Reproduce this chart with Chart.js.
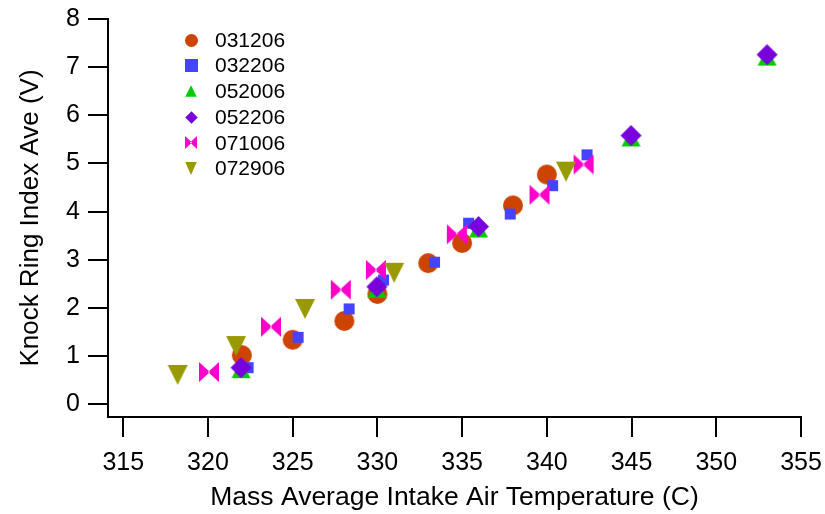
<!DOCTYPE html>
<html>
<head>
<meta charset="utf-8">
<script src="https://cdn.jsdelivr.net/npm/chart.js@4.4.1/dist/chart.umd.min.js"></script>
<style>
  html, body { margin: 0; padding: 0; background: #fff; }
</style>
</head>
<body>
<canvas id="chart" width="825" height="514"></canvas>
<script>
// series names, colours and marker shapes
const seriesNames = ['031206', '032206', '052006', '052206', '071006', '072906'];
const seriesColors = ['#cc4400', '#4444ff', '#00cc00', '#7700dd', '#ff00cc', '#999900'];
const seriesShapes = ['circle', 'square', 'triangle', 'diamond', 'bowtie', 'triangleDown'];

// values (temperature C, knock ring index V)
const x031206 = [322.0, 325.0, 328.05, 330.0, 333.0, 335.0, 338.0, 340.0];
const y031206 = [1.02, 1.34, 1.73, 2.29, 2.93, 3.35, 4.13, 4.77];
const x032206 = [322.37, 325.32, 328.33, 330.36, 333.37, 335.38, 337.84, 340.34, 342.37];
const y032206 = [0.76, 1.39, 1.98, 2.58, 2.95, 3.76, 3.95, 4.54, 5.18];
const x052006 = [321.95, 329.97, 335.97, 344.97, 353.0];
const y052006 = [0.73, 2.40, 3.65, 5.54, 7.22];
const x052206 = [321.95, 329.97, 335.97, 344.97, 353.0];
const y052206 = [0.76, 2.44, 3.69, 5.58, 7.26];
const x071006 = [320.06, 323.72, 327.84, 329.91, 334.69, 339.57, 342.17];
const y071006 = [0.67, 1.61, 2.38, 2.79, 3.53, 4.35, 4.98];
const x072906 = [318.21, 321.66, 325.73, 330.99, 341.13];
const y072906 = [0.61, 1.21, 1.98, 2.73, 4.83];

const xValues = [x031206, x032206, x052006, x052206, x071006, x072906];
const yValues = [y031206, y032206, y052006, y052206, y071006, y072906];

const xTicks = [315, 320, 325, 330, 335, 340, 345, 350, 355];
const yTicks = [0, 1, 2, 3, 4, 5, 6, 7, 8];

const FONT = '"Liberation Sans", Arial, Helvetica, sans-serif';

// draw one marker on its own little canvas (used as pointStyle)
function makeMarker(shape, w, h, color) {
  const c = document.createElement('canvas');
  c.width = Math.ceil(w) + 2;
  c.height = Math.ceil(h) + 2;
  const g = c.getContext('2d');
  const cx = c.width / 2, cy = c.height / 2;
  const hw = w / 2, hh = h / 2;
  g.fillStyle = color;
  g.beginPath();
  if (shape === 'circle') {
    g.arc(cx, cy, hw, 0, Math.PI * 2);
  } else if (shape === 'square') {
    g.rect(cx - hw, cy - hh, w, h);
  } else if (shape === 'triangle') {
    g.moveTo(cx, cy - hh);
    g.lineTo(cx + hw, cy + hh);
    g.lineTo(cx - hw, cy + hh);
  } else if (shape === 'triangleDown') {
    g.moveTo(cx - hw, cy - hh);
    g.lineTo(cx + hw, cy - hh);
    g.lineTo(cx, cy + hh);
  } else if (shape === 'diamond') {
    g.moveTo(cx, cy - hh);
    g.lineTo(cx + hw, cy);
    g.lineTo(cx, cy + hh);
    g.lineTo(cx - hw, cy);
  } else if (shape === 'bowtie') {
    g.moveTo(cx - hw, cy - hh);
    g.lineTo(cx + 1, cy);
    g.lineTo(cx - hw, cy + hh);
    g.closePath();
    g.moveTo(cx + hw, cy - hh);
    g.lineTo(cx - 1, cy);
    g.lineTo(cx + hw, cy + hh);
  }
  g.closePath();
  g.fill();
  return c;
}

const dataSizes = { circle: [20, 20], square: [11, 11], triangle: [19, 18], diamond: [21, 21], bowtie: [20, 20], triangleDown: [20, 20] };
const legendSizes = { circle: [13, 13], square: [13, 13], triangle: [11.5, 11.5], diamond: [12.5, 12.5], bowtie: [12, 13], triangleDown: [11.5, 13] };

const dataMarkers = seriesShapes.map((s, i) => makeMarker(s, dataSizes[s][0], dataSizes[s][1], seriesColors[i]));
const legendMarkers = seriesShapes.map((s, i) => makeMarker(s, legendSizes[s][0], legendSizes[s][1], seriesColors[i]));

// legend sits inside the plot, top left
const insideLegend = {
  id: 'insideLegend',
  afterDraw(chart) {
    const ctx = chart.ctx;
    const area = chart.chartArea;
    const mx = area.left + 83;
    const tx = area.left + 107;
    ctx.save();
    ctx.font = '21px ' + FONT;
    ctx.fillStyle = '#000';
    ctx.textBaseline = 'middle';
    seriesNames.forEach((name, i) => {
      const y = 40 + i * 25.7;
      const img = legendMarkers[i];
      ctx.drawImage(img, Math.round(mx - img.width / 2), Math.round(y - img.height / 2));
      ctx.fillText(name, tx, y + 1);
    });
    ctx.restore();
  }
};

const axisLine = { display: true, color: '#000', width: 2 };
const tickMarks = { display: true, drawOnChartArea: false, drawTicks: true, tickLength: 20, color: '#000', lineWidth: 2 };

new Chart(document.getElementById('chart'), {
  type: 'scatter',
  data: {
    datasets: seriesNames.map((name, i) => ({
      label: name,
      data: xValues[i].map((x, j) => ({ x: x, y: yValues[i][j] })),
      pointStyle: dataMarkers[i],
      pointRadius: 10,
      pointHoverRadius: 10,
      backgroundColor: seriesColors[i],
      borderColor: seriesColors[i],
      order: seriesNames.length - i,
      clip: false
    }))
  },
  options: {
    responsive: false,
    animation: false,
    layout: { padding: { left: 0, right: 24, top: 19, bottom: 0 } },
    plugins: {
      legend: { display: false },
      tooltip: { enabled: false }
    },
    scales: {
      x: {
        type: 'linear',
        min: 314.1,
        max: 355,
        border: axisLine,
        grid: tickMarks,
        afterBuildTicks: s => { s.ticks = xTicks.map(v => ({ value: v })); },
        afterFit: s => { s.height = 97; s.paddingLeft = 0; s.paddingRight = 0; },
        ticks: {
          autoSkip: false,
          maxRotation: 0,
          padding: 11,
          color: '#000',
          font: { family: FONT, size: 25 }
        },
        title: {
          display: true,
          text: 'Mass Average Intake Air Temperature (C)',
          color: '#000',
          font: { family: FONT, size: 26.5 },
          padding: { top: 0, bottom: 0 }
        }
      },
      y: {
        type: 'linear',
        min: -0.264,
        max: 8,
        border: axisLine,
        grid: tickMarks,
        afterBuildTicks: s => { s.ticks = yTicks.map(v => ({ value: v })); },
        afterFit: s => { s.width = 108; s.paddingTop = 0; s.paddingBottom = 0; },
        ticks: {
          autoSkip: false,
          padding: 8,
          color: '#000',
          font: { family: FONT, size: 25 }
        },
        title: {
          display: true,
          text: 'Knock Ring Index Ave (V)',
          color: '#000',
          font: { family: FONT, size: 26 },
          padding: { top: 15, bottom: 0 }
        }
      }
    }
  },
  plugins: [insideLegend]
});
</script>
</body>
</html>
